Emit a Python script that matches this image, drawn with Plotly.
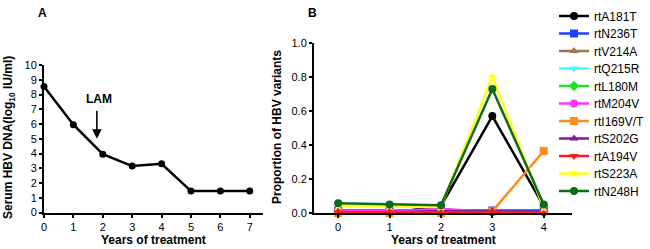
import plotly.graph_objects as go

# Panel A data
years_a = [0, 1, 2, 3, 4, 5, 6, 7]
hbv_dna = [8.55, 5.95, 3.95, 3.15, 3.3, 1.45, 1.45, 1.45]

# Panel B data
years_b = [0, 1, 2, 3, 4]
variant_names = ["rtA181T", "rtN236T", "rtV214A", "rtQ215R", "rtL180M", "rtM204V",
                 "rtI169V/T", "rtS202G", "rtA194V", "rtS223A", "rtN248H"]
rtA181T = [0.0, 0.0, 0.04, 0.57, 0.04]
rtN236T = [0.015, 0.015, 0.015, 0.015, 0.015]
rtV214A = [0.005, 0.005, 0.005, 0.005, 0.005]
rtQ215R = [0.005, 0.005, 0.005, 0.005, 0.005]
rtL180M = [0.005, 0.005, 0.005, 0.005, 0.005]
rtM204V = [0.01, 0.01, 0.025, 0.005, 0.005]
rtI169VT = [0.0, 0.0, 0.0, 0.01, 0.365]
rtS202G = [0.005, 0.005, 0.01, 0.01, 0.005]
rtA194V = [0.005, 0.005, 0.005, 0.005, 0.005]
rtS223A = [0.043, 0.04, 0.035, 0.80, 0.03]
rtN248H = [0.057, 0.05, 0.045, 0.73, 0.05]
variant_values = [rtA181T, rtN236T, rtV214A, rtQ215R, rtL180M, rtM204V,
                  rtI169VT, rtS202G, rtA194V, rtS223A, rtN248H]

colors = ["#000000", "#1f3fff", "#a0764a", "#40ffff", "#22e022", "#ff33ff",
          "#ff8c1a", "#7f1f8f", "#ff1a1a", "#ffff1a", "#0e6b1a"]
symbols = ["circle", "square", "triangle-up", "triangle-down", "diamond", "circle",
           "square", "triangle-up", "triangle-down", "star", "circle"]

FONT = "Liberation Sans, Arial, sans-serif"
W, H = 650, 249

def px_x(p):
    return p / W

def px_y(p):
    return 1 - p / H

fig = go.Figure()
fig.add_trace(go.Scatter(x=years_a, y=hbv_dna, mode="lines+markers",
                         line=dict(color="black", width=2.5),
                         marker=dict(color="black", size=7),
                         showlegend=False, xaxis="x", yaxis="y", cliponaxis=False))

legend_layouts = {}
for i, (name, vals, c, s) in enumerate(zip(variant_names, variant_values, colors, symbols)):
    lg = "legend" if i == 0 else f"legend{i+1}"
    fig.add_trace(go.Scatter(x=years_b, y=vals, mode="lines+markers", name=name,
                             line=dict(color=c, width=2.5),
                             marker=dict(color=c, size=8, symbol=s),
                             xaxis="x2", yaxis="y2", cliponaxis=False, legend=lg))
    legend_layouts[lg] = dict(x=px_x(554), y=px_y(16 + 17.5 * i), xanchor="left", yanchor="middle",
                              font=dict(size=12, color="black", family=FONT),
                              itemwidth=30, bgcolor="rgba(0,0,0,0)", borderwidth=0,
                              itemclick=False, itemdoubleclick=False)

axis_common = dict(showline=True, linecolor="black", linewidth=2, ticks="outside",
                   ticklen=3, tickwidth=2, tickcolor="black", showgrid=False,
                   zeroline=False, automargin=False,
                   tickfont=dict(size=11, color="black", family=FONT))

fig.update_layout(
    width=W, height=H,
    margin=dict(l=0, r=0, t=0, b=0, pad=0),
    paper_bgcolor="white", plot_bgcolor="white",
    font=dict(family=FONT, color="black"),
    xaxis=dict(domain=[px_x(44), px_x(263)], range=[0, 7.45], tickvals=years_a,
               anchor="y", **axis_common),
    yaxis=dict(domain=[px_y(212.5), px_y(65)], range=[0, 10], tickvals=list(range(11)),
               anchor="x", **axis_common),
    xaxis2=dict(domain=[px_x(314), px_x(572)], range=[-0.47, 4.55], tickvals=years_b,
                anchor="y2", **axis_common),
    yaxis2=dict(domain=[px_y(213), px_y(43)], range=[0, 1], tickvals=[0, 0.2, 0.4, 0.6, 0.8, 1.0],
                tickformat=".1f", anchor="x2", **axis_common),
    showlegend=True,
    **legend_layouts,
)

# Panel labels
fig.add_annotation(text="<b>A</b>", x=px_x(42), y=px_y(13), xref="paper", yref="paper",
                   showarrow=False, font=dict(size=12), xanchor="center", yanchor="middle")
fig.add_annotation(text="<b>B</b>", x=px_x(312), y=px_y(13), xref="paper", yref="paper",
                   showarrow=False, font=dict(size=12), xanchor="center", yanchor="middle")

# Axis titles
fig.add_annotation(text="<b>Years of treatment</b>", x=px_x(153), y=px_y(240), xref="paper", yref="paper",
                   showarrow=False, font=dict(size=12), xanchor="center", yanchor="middle")
fig.add_annotation(text="<b>Years of treatment</b>", x=px_x(443), y=px_y(240), xref="paper", yref="paper",
                   showarrow=False, font=dict(size=12), xanchor="center", yanchor="middle")
fig.add_annotation(text="<b>Serum HBV DNA(log<sub>10</sub> IU/ml)</b>", x=px_x(9), y=px_y(138),
                   xref="paper", yref="paper", showarrow=False, textangle=-90,
                   font=dict(size=12), xanchor="center", yanchor="middle")
fig.add_annotation(text="<b>Proportion of HBV variants</b>", x=px_x(277), y=px_y(127),
                   xref="paper", yref="paper", showarrow=False, textangle=-90,
                   font=dict(size=12), xanchor="center", yanchor="middle")

# LAM arrow
fig.add_annotation(text="<b>LAM</b>", x=1.88, y=7.7, xref="x", yref="y",
                   showarrow=False, font=dict(size=12))
fig.add_annotation(text="", x=1.8, y=5.0, ax=1.8, ay=7.0, xref="x", yref="y",
                   axref="x", ayref="y", showarrow=True, arrowhead=2, arrowsize=1.2,
                   arrowwidth=1.6, arrowcolor="black")

fig.write_html("out.html", config={"displayModeBar": False},
               post_script="document.body.style.margin='0';document.body.style.overflow='hidden';")
